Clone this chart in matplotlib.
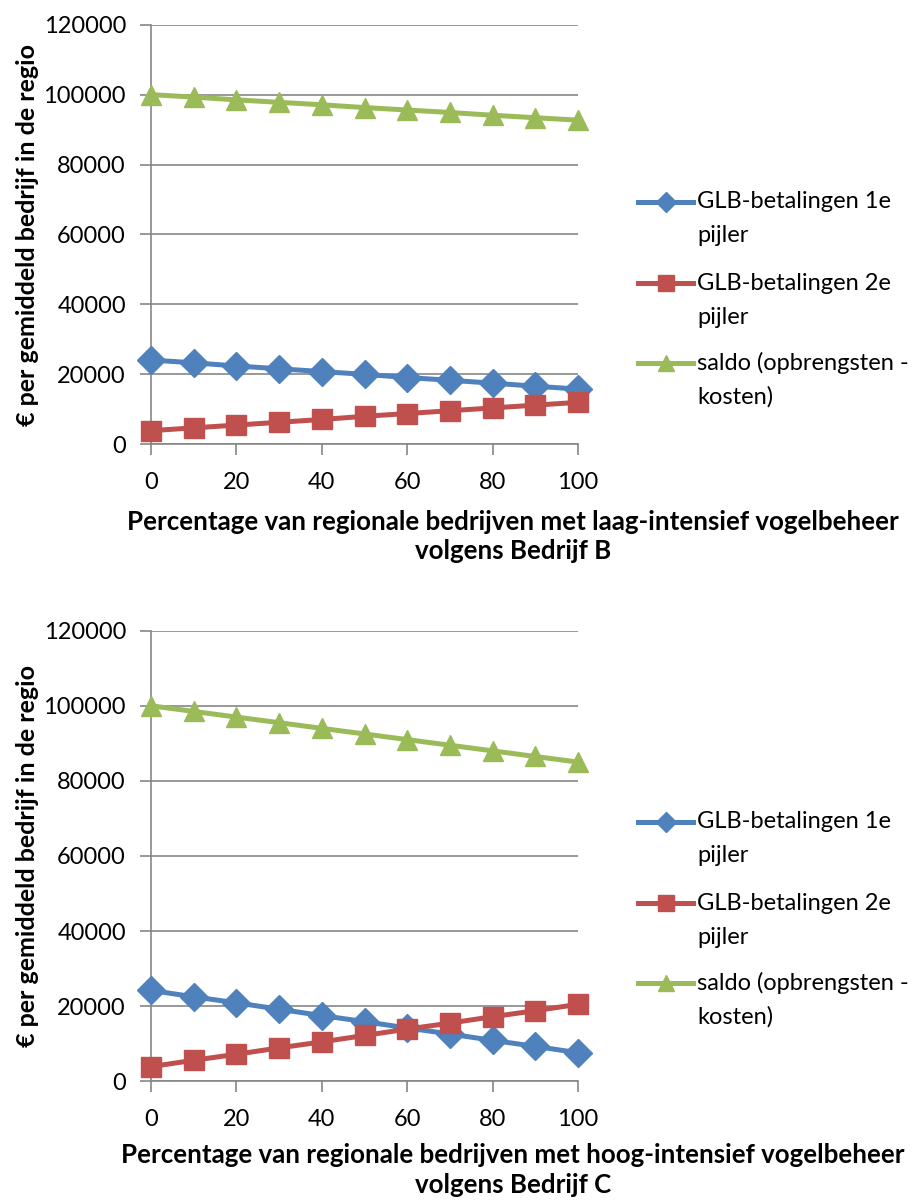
import matplotlib.pyplot as plt
from matplotlib.lines import Line2D

plt.rcParams["font.family"] = ["Lato", "DejaVu Sans"]

pct = [0, 10, 20, 30, 40, 50, 60, 70, 80, 90, 100]

# scenario B: low-intensity bird management
glb1_b = [24100, 23300, 22400, 21600, 20800, 20000, 19100, 18300, 17500, 16600, 15800]
glb2_b = [3900, 4700, 5500, 6300, 7100, 8000, 8800, 9600, 10400, 11200, 12000]
saldo_b = [100000, 99300, 98500, 97800, 97100, 96300, 95600, 94900, 94100, 93400, 92700]

# scenario C: high-intensity bird management
glb1_c = [24200, 22500, 20900, 19200, 17500, 15900, 14200, 12600, 10900, 9300, 7600]
glb2_c = [3900, 5600, 7200, 8900, 10500, 12200, 13900, 15500, 17200, 18800, 20500]
saldo_c = [100000, 98500, 97000, 95500, 94000, 92500, 91000, 89500, 88000, 86500, 85000]

series_labels = [
    ("GLB-betalingen 1e", "pijler"),
    ("GLB-betalingen 2e", "pijler"),
    ("saldo (opbrengsten -", "kosten)"),
]
colors = ["#4F81BD", "#C0504D", "#9BBB59"]
markers = ["D", "s", "^"]
yticks = [0, 20000, 40000, 60000, 80000, 100000, 120000]
xticks = [0, 20, 40, 60, 80, 100]

xlabels = [
    ("Percentage van regionale bedrijven met laag-intensief vogelbeheer", "volgens Bedrijf B"),
    ("Percentage van regionale bedrijven met hoog-intensief vogelbeheer", "volgens Bedrijf C"),
]
ylabel = "€ per gemiddeld bedrijf in de regio"

GRAY = "#868686"
FS = 17
FS_BOLD = 18
W, H = 924, 1200

fig = plt.figure(figsize=(W / 100, H / 100), dpi=100)


def fy(px):
    return 1 - px / H


panels = [
    # axes box in pixels (left, top, right, bottom), series, legend rows, xlabel rows
    ((151, 24.7, 578, 444.3), (glb1_b, glb2_b, saldo_b), (202, 283, 363), (522, 551)),
    ((151, 630.7, 578, 1081.3), (glb1_c, glb2_c, saldo_c), (822, 903, 983), (1155, 1185)),
]

for i, (box, data, leg_y, xl_y) in enumerate(panels):
    l, t, r, b = box
    ax = fig.add_axes([l / W, fy(b), (r - l) / W, (b - t) / H])
    for vals, c, m in zip(data, colors, markers):
        ax.plot(pct, vals, color=c, lw=3.6, marker=m, ms=14,
                mec=c, clip_on=False, zorder=3)
    ax.set_xlim(0, 100)
    ax.set_ylim(0, 120000)
    ax.set_xticks(xticks)
    ax.set_yticks(yticks)
    ax.set_yticklabels([str(v) for v in yticks])
    ax.tick_params(axis="both", colors=GRAY, labelcolor="black", labelsize=FS,
                   length=8, width=1.2)
    ax.tick_params(axis="x", pad=12)
    ax.tick_params(axis="y", pad=10)
    ax.grid(axis="y", color=GRAY, lw=1.2)
    ax.set_axisbelow(True)
    for s in ("top", "right"):
        ax.spines[s].set_visible(False)
    for s in ("left", "bottom"):
        ax.spines[s].set_color(GRAY)
        ax.spines[s].set_linewidth(1.2)

    fig.text(28 / W, fy((t + b) / 2), ylabel, rotation=90, ha="center", va="center",
             fontsize=FS_BOLD, fontweight="bold")
    for line, y in zip(xlabels[i], xl_y):
        fig.text(513 / W, fy(y), line, ha="center", va="center",
                 fontsize=18.6, fontweight="bold")

    # legend beside the plot, marker level with the first text line
    for y, (first, second), c, m in zip(leg_y, series_labels, colors, markers):
        fig.add_artist(Line2D([638 / W, 693 / W], [fy(y), fy(y)], color=c, lw=3.6,
                              transform=fig.transFigure))
        fig.add_artist(Line2D([665.5 / W], [fy(y)], color=c, marker=m,
                              ms=11 if m != "D" else 10, mec=c, transform=fig.transFigure))
        fig.text(697 / W, fy(y), first, ha="left", va="center", fontsize=FS)
        fig.text(697 / W, fy(y + 34), second, ha="left", va="center", fontsize=FS)

fig.savefig("out.png", dpi=100)
